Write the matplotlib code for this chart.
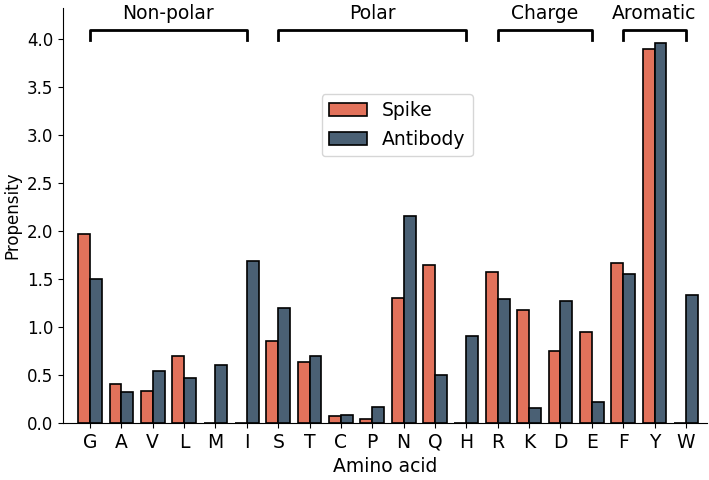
import numpy as np
import matplotlib
matplotlib.use("Agg")
from matplotlib import pyplot as plt

amino_acids = ['G', 'A', 'V', 'L', 'M', 'I', 'S', 'T', 'C', 'P',
               'N', 'Q', 'H', 'R', 'K', 'D', 'E', 'F', 'Y', 'W']
spike = [1.97, 0.41, 0.33, 0.70, 0.0, 0.0, 0.85, 0.63, 0.07, 0.04,
         1.30, 1.64, 0.0, 1.57, 1.18, 0.75, 0.95, 1.67, 3.89, 0.0]
antibody = [1.50, 0.32, 0.54, 0.47, 0.60, 1.69, 1.20, 0.70, 0.08, 0.17,
            2.15, 0.50, 0.90, 1.29, 0.15, 1.27, 0.22, 1.55, 3.96, 1.33]

# groups: (label, first index, last index)
groups = [('Non-polar', 0, 5), ('Polar', 6, 12),
          ('Charge', 13, 16), ('Aromatic', 17, 19)]

plt.rcParams['font.size'] = 12

fig = plt.figure(figsize=(7.09, 4.8), dpi=100)
ax = fig.add_axes([0.089, 0.119, 0.908, 0.864])

x = np.arange(len(amino_acids))
width = 0.38
ax.bar(x - width / 2, spike, width, color='#E2725B', edgecolor='black',
       linewidth=1.2, label='Spike')
ax.bar(x + width / 2, antibody, width, color='#4A6074', edgecolor='black',
       linewidth=1.2, label='Antibody')

ax.set_xticks(x)
ax.set_xticklabels(amino_acids, fontsize=13.5)
ax.set_yticks(np.arange(0, 4.01, 0.5))
ax.tick_params(axis='y', labelsize=12)
ax.set_xlim(-0.86, 19.67)
ax.set_ylim(0, 4.32)
ax.set_xlabel('Amino acid', fontsize=13.5)
ax.set_ylabel('Propensity', fontsize=12)
ax.spines['top'].set_visible(False)
ax.spines['right'].set_visible(False)

# brackets above groups
for label, start, end in groups:
    ax.plot([start, start, end, end], [3.99, 4.09, 4.09, 3.99],
            color='black', linewidth=2, clip_on=False)
    ax.text((start + end) / 2, 4.17, label, ha='center', va='bottom',
            fontsize=13.5, clip_on=False)

ax.legend(loc='center', bbox_to_anchor=(0.519, 0.718), fontsize=13.5)

fig.savefig('out.png', dpi=100)
